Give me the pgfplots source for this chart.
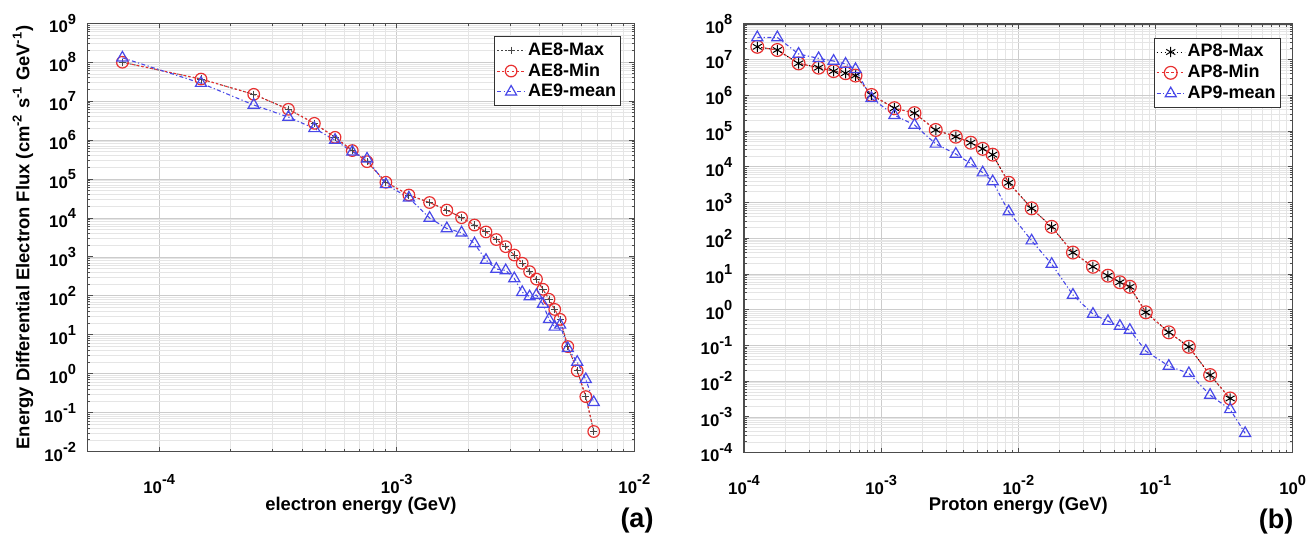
\documentclass[border=0pt]{standalone}
\usepackage{fontspec}
\setmainfont{Liberation Sans}
\usepackage{pgfplots}
\pgfplotsset{compat=1.18}
\usepackage{pgfplotstable}

\definecolor{mred}{RGB}{232,48,48}
\definecolor{mblue}{RGB}{72,72,232}
\definecolor{mgray}{RGB}{70,70,70}
\newcommand{\tl}[1]{10\raisebox{4.3pt}{\fontsize{7.3}{8}\selectfont #1}}

\pgfplotstableread{
x ae8 ae9
7e-5 1.0e8 1.3e8
1.5e-4 3.7e7 2.9e7
2.5e-4 1.5e7 8.0e6
3.5e-4 6.2e6 3.9e6
4.5e-4 2.7e6 2.0e6
5.5e-4 1.18e6 1.0e6
6.5e-4 5.4e5 5.0e5
7.5e-4 2.8e5 3.3e5
9.0e-4 8.3e4 7.3e4
1.125e-3 3.9e4 3.3e4
1.375e-3 2.5e4 1.0e4
1.625e-3 1.6e4 5.4e3
1.875e-3 1.02e4 4.2e3
2.125e-3 6.6e3 2.2e3
2.375e-3 4.4e3 8.3e2
2.625e-3 2.8e3 4.9e2
2.875e-3 1.84e3 4.5e2
3.125e-3 1.12e3 2.8e2
3.375e-3 6.9e2 1.24e2
3.625e-3 4.2e2 9.6e1
3.875e-3 2.7e2 1.05e2
4.125e-3 1.48e2 62
4.375e-3 82 25
4.625e-3 45 16
4.875e-3 25 18
5.25e-3 5.0 4.5
5.75e-3 1.2 2.0
6.25e-3 0.26 0.72
6.75e-3 0.033 0.185
}\tableAE

\pgfplotstableread{
x ap8
1.25e-4 2.3e7
1.75e-4 1.87e7
2.5e-4 7.9e6
3.5e-4 6.0e6
4.5e-4 4.8e6
5.5e-4 4.2e6
6.5e-4 3.6e6
8.5e-4 1.03e6
1.25e-3 4.4e5
1.75e-3 3.2e5
2.5e-3 1.08e5
3.5e-3 7.0e4
4.5e-3 4.75e4
5.5e-3 3.2e4
6.5e-3 2.2e4
8.5e-3 3.6e3
1.25e-2 6.9e2
1.75e-2 2.1e2
2.5e-2 40
3.5e-2 16
4.5e-2 9.0
5.5e-2 5.9
6.5e-2 4.4
8.5e-2 0.85
0.125 0.234
0.175 0.092
0.25 0.0149
0.35 0.0033
}\tableAPeight

\pgfplotstableread{
x ap9
1.25e-4 4.2e7
1.75e-4 4.2e7
2.5e-4 1.45e7
3.5e-4 1.09e7
4.5e-4 9.2e6
5.5e-4 7.6e6
6.5e-4 5.4e6
8.5e-4 8.3e5
1.25e-3 2.8e5
1.75e-3 1.49e5
2.5e-3 4.4e4
3.5e-3 2.3e4
4.5e-3 1.23e4
5.5e-3 6.9e3
6.5e-3 3.9e3
8.5e-3 5.6e2
1.25e-2 86
1.75e-2 19
2.5e-2 2.6
3.5e-2 0.76
4.5e-2 0.48
5.5e-2 0.35
6.5e-2 0.27
8.5e-2 0.070
0.125 0.0266
0.175 0.0166
0.25 0.0041
0.35 0.00163
0.45 3.5e-4
}\tableAPnine

\pgfplotsset{
  mystyle/.style={
    scale only axis, grid=both,
    major grid style={black!20, line width=0.45pt},
    minor grid style={black!10, line width=0.45pt},
    axis line style={black!70, line width=0.6pt},
    tick style={black!70, line width=0.5pt},
    major tick length=2.5pt, minor tick length=1.4pt,
    tick align=inside, xtick pos=both, ytick pos=both,
    xticklabel pos=lower, yticklabel pos=left,
    tick label style={font=\fontsize{8.4}{9}\selectfont\bfseries},
    xticklabel style={yshift=-7.8pt},
    yticklabel style={xshift=-2.3pt},
    label style={font=\fontsize{9.2}{10}\selectfont\bfseries},
    legend style={anchor=north east, draw=black!80, line width=0.5pt, fill=white,
      font=\fontsize{9}{10}\selectfont\bfseries, inner xsep=1pt, inner ysep=1pt,
      row sep=-1.5pt, cells={anchor=west}, nodes={inner xsep=1.2pt}},
    legend image code/.code={\draw[mark repeat=2,mark phase=2,##1] plot coordinates {(0pt,0pt)(7pt,0pt)(14pt,0pt)};},
  }
}

\begin{document}
\begin{tikzpicture}
\path[use as bounding box] (0,0) rectangle (653.5pt,268.5pt);

\begin{loglogaxis}[mystyle,
  at={(43.85pt,42.65pt)}, anchor=south west,
  width=273.3pt, height=214.2pt,
  xmin=5e-5, xmax=1e-2, ymin=1e-2, ymax=1e9,
  xtick={1e-4,1e-3,1e-2},
  xticklabels={\tl{-4},\tl{-3},\tl{-2}},
  ytick={1e-2,1e-1,1,1e1,1e2,1e3,1e4,1e5,1e6,1e7,1e8,1e9},
  yticklabels={\tl{-2},\tl{-1},\tl{0},\tl{1},\tl{2},\tl{3},\tl{4},\tl{5},\tl{6},\tl{7},\tl{8},\tl{9}},
  xlabel={electron energy (GeV)},
  ylabel={Energy Differential Electron Flux (cm\textsuperscript{-2} s\textsuperscript{-1} GeV\textsuperscript{-1})},
  xlabel style={at={(axis description cs:0.5,-0.1046)}, anchor=north, inner sep=0pt},
  ylabel style={at={(axis description cs:-0.0988,0.5)}, anchor=south, inner sep=0pt},
  legend style={at={(axis description cs:0.9757,0.9704)}},
]
\addplot[mgray, line width=0.5pt, dash pattern=on 0.7pt off 1.3pt, mark=+, mark size=1.8pt, mark options={solid, line width=0.5pt}] table[x=x,y=ae8]{\tableAE};
\addlegendentry{AE8-Max}
\addplot[mred, line width=0.55pt, dash pattern=on 1.2pt off 1.2pt, mark=o, mark size=2.9pt, mark options={solid, line width=0.6pt}] table[x=x,y=ae8]{\tableAE};
\addlegendentry{AE8-Min}
\addplot[mblue, line width=0.55pt, dash pattern=on 2pt off 1.2pt on 0.6pt off 1.2pt, mark=triangle, mark size=3.2pt, mark options={solid, line width=0.6pt}] table[x=x,y=ae9]{\tableAE};
\addlegendentry{AE9-mean}
\end{loglogaxis}

\begin{loglogaxis}[mystyle,
  at={(372pt,42.15pt)}, anchor=south west,
  width=274.35pt, height=214.35pt,
  xmin=1e-4, xmax=1, ymin=1e-4, ymax=1e8,
  xtick={1e-4,1e-3,1e-2,1e-1,1},
  xticklabels={\tl{-4},\tl{-3},\tl{-2},\tl{-1},\tl{0}},
  ytick={1e-4,1e-3,1e-2,1e-1,1,1e1,1e2,1e3,1e4,1e5,1e6,1e7,1e8},
  yticklabels={\tl{-4},\tl{-3},\tl{-2},\tl{-1},\tl{0},\tl{1},\tl{2},\tl{3},\tl{4},\tl{5},\tl{6},\tl{7},\tl{8}},
  xlabel={Proton energy (GeV)},
  xlabel style={at={(axis description cs:0.5,-0.1033)}, anchor=north, inner sep=0pt},
  legend style={at={(axis description cs:0.978,0.968)}},
]
\addplot[black, line width=0.5pt, dash pattern=on 0.7pt off 1.3pt, mark=asterisk, mark size=2.6pt, mark options={solid, line width=0.5pt}] table[x=x,y=ap8]{\tableAPeight};
\addlegendentry{AP8-Max}
\addplot[mred, line width=0.55pt, dash pattern=on 1.2pt off 1.2pt, mark=o, mark size=3.2pt, mark options={solid, line width=0.6pt}] table[x=x,y=ap8]{\tableAPeight};
\addlegendentry{AP8-Min}
\addplot[mblue, line width=0.55pt, dash pattern=on 2pt off 1.2pt on 0.6pt off 1.2pt, mark=triangle, mark size=3.2pt, mark options={solid, line width=0.6pt}] table[x=x,y=ap9]{\tableAPnine};
\addlegendentry{AP9-mean}
\end{loglogaxis}

\node[font=\fontsize{13.5}{15}\selectfont\bfseries] at (318.5pt,8pt) {(a)};
\node[font=\fontsize{13.5}{15}\selectfont\bfseries] at (638pt,7.5pt) {(b)};
\end{tikzpicture}
\end{document}
